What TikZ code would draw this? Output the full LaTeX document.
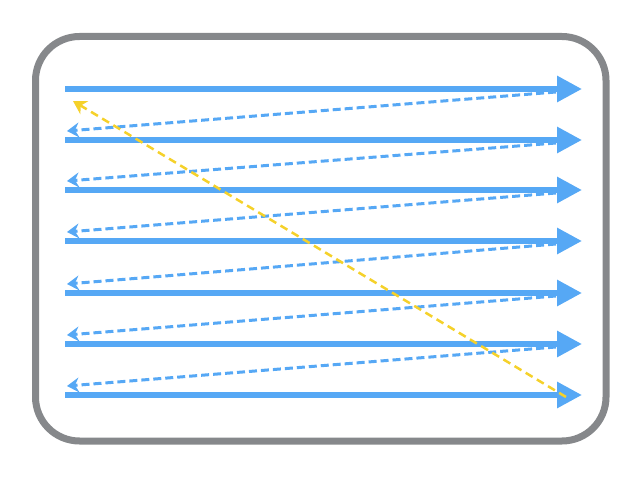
\documentclass[tikz,border=0pt]{standalone}
\usetikzlibrary{arrows.meta}

\definecolor{scanblue}{HTML}{56A8F5}
\definecolor{framegray}{HTML}{86888B}
\definecolor{returnyellow}{HTML}{F5D12A}

\begin{document}
\begin{tikzpicture}[
  x=1pt, y=-1pt,
  frame/.style={line width=7pt, draw=framegray, rounded corners=44pt},
  scan line/.style={line width=6pt, draw=scanblue, -{Triangle[length=25pt, width=25pt]}},
  retrace/.style={line width=3pt, draw=scanblue, dash pattern=on 8pt off 4pt,
    -{Stealth[length=12pt, width=15pt, inset=4pt]}},
  flyback/.style={line width=2.5pt, draw=returnyellow, dash pattern=on 8pt off 5pt,
    -{Stealth[length=13pt, width=15pt, inset=4pt]}}
]
\useasboundingbox (0,0) rectangle (642,478);

\draw[frame] (35.5,36.5) rectangle (606,441);

\foreach \i/\y in {1/89, 2/140, 3/190, 4/241, 5/293, 6/344, 7/395} {
  \coordinate (L\i) at (65, \y);
  \coordinate (R\i) at (582, \y);
  \coordinate (D\i) at (556, \y+3);
  \coordinate (E\i) at (67, \y-9);
  \draw[scan line] (L\i) -- (R\i);
}
\foreach \i [evaluate=\i as \j using int(\i+1)] in {1,...,6} {
  \draw[retrace] (D\i) -- (E\j);
}

\coordinate (Y1) at (566, 397);
\coordinate (Y2) at (73, 101);
\draw[flyback] (Y1) -- (Y2);
\end{tikzpicture}
\end{document}
